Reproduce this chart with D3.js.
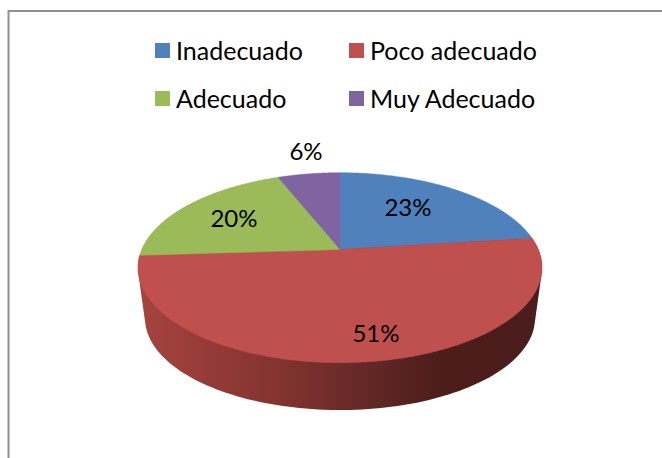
<!DOCTYPE html>
<html><head><meta charset="utf-8">
<script src="https://cdn.jsdelivr.net/npm/d3@7"></script>
<style>html,body{margin:0;padding:0;background:#fff}svg{display:block}text{font-family:Lato,"Noto Sans",sans-serif;fill:#000}</style>
</head><body><svg id="c" width="662" height="458"></svg>
<script>
const categories = ["Inadecuado","Poco adecuado","Adecuado","Muy Adecuado"];
const values = [23,51,20,6];
const colors = ["#4f81bd","#c0504d","#9bbb59","#8064a2"];
const svg = d3.select("#c");
const W=662,H=458;
svg.append("path").attr("d",`M${W+2},11H8.5V${H+2}`).attr("fill","none").attr("stroke","#8f8f8f").attr("stroke-width",2);
const color=d3.scaleOrdinal(categories,colors);
const cx=340,y0=249.5,k=0.1916,a=198.3,b=91.5,shrink=0.965,y1=300.8;
const proj=(t,yc,s)=>{const u=Math.sin(t),v=Math.cos(t),d=1+k*v;return [cx+s*a*u/d,yc-s*b*v/d]};
const topFace=t=>proj(t,y0,1),botFace=t=>proj(t,y1,shrink);
const arcs=d3.pie().sort(null).value(d=>d)(values);
const line=d3.line();
const steps=(s,e)=>d3.range(0,121).map(i=>s+(e-s)*i/120);
const defs=svg.append("defs");
const g=defs.append("linearGradient").attr("id","side").attr("gradientUnits","userSpaceOnUse").attr("x1",140).attr("x2",540).attr("y1",0).attr("y2",0);
[[0,"#a6433f"],[0.35,"#83332f"],[0.55,"#662927"],[0.75,"#4c1d1b"],[1,"#4a1c1b"]].forEach(([o,c])=>g.append("stop").attr("offset",o).attr("stop-color",c));
const red=arcs[1];
const ring=d3.polygonHull([...steps(red.startAngle,red.endAngle).map(topFace),...steps(red.startAngle,red.endAngle).map(botFace)]);
svg.append("path").attr("d",line(ring)+"Z").attr("fill","url(#side)");
svg.selectAll("path.face").data(arcs).join("path").attr("class","face")
 .attr("d",d=>line([[cx,y0],...steps(d.startAngle,d.endAngle).map(topFace)])+"Z")
 .attr("fill",(d,i)=>color(categories[i])).attr("stroke",(d,i)=>color(categories[i])).attr("stroke-width",0.5);
const labelPos=[[408,206.5],[376,332],[234,217.5],[306,150.5]];
svg.selectAll("text.lab").data(arcs).join("text").attr("class","lab")
 .attr("x",(d,i)=>labelPos[i][0]).attr("y",(d,i)=>labelPos[i][1]).attr("text-anchor","middle").attr("dominant-baseline","central")
 .attr("font-size",24).text(d=>d.value+"%");
const legendX=d3.scalePoint().domain([0,1]).range([155,349]);
const legendY=d3.scalePoint().domain([0,1]).range([43,91]);
const lg=svg.selectAll("g.l").data(categories).join("g").attr("class","l")
 .attr("transform",(d,i)=>`translate(${legendX(i%2)},${legendY(i>>1)})`);
lg.append("rect").attr("width",15).attr("height",15).attr("fill",d=>color(d));
lg.append("text").attr("x",21).attr("y",7).attr("dominant-baseline","central").attr("font-size",25).text(d=>d);
</script></body></html>
